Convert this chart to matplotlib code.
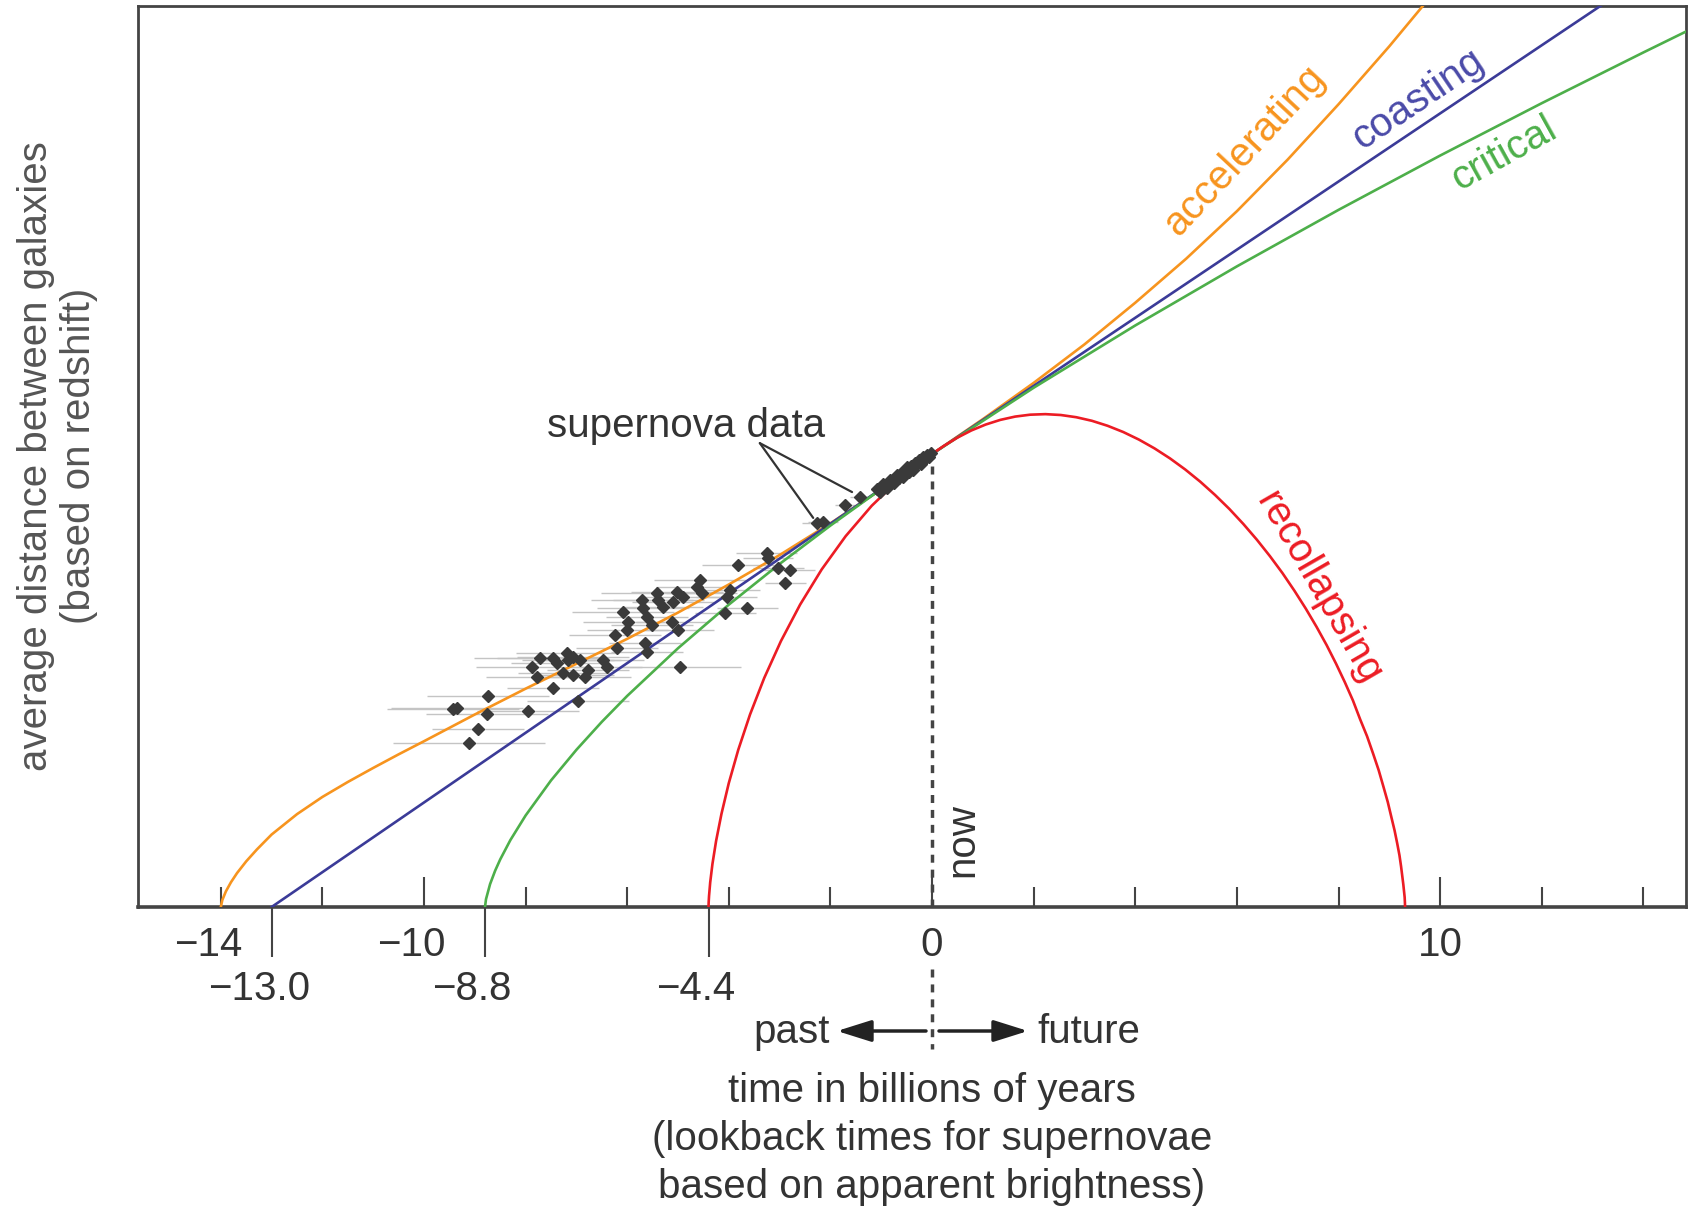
import matplotlib
matplotlib.use("Agg")
import matplotlib.pyplot as plt
from matplotlib.transforms import ScaledTranslation

plt.rcParams['font.family'] = ['Liberation Sans', 'DejaVu Sans']

# ---------------- data ----------------
# time in billions of years (0 = now), y = average distance relative to today
acc_t = [-14.0, -13.97, -13.9, -13.8, -13.68, -13.5, -13.29, -13.0, -12.5, -12.0,
         -11.5, -11.0, -10.5, -10.0, -9.0, -8.0, -7.0, -6.0, -5.0, -4.0, -3.0,
         -2.0, -1.0, 0.0, 1.0, 2.0, 3.0, 4.0, 5.0, 6.0, 7.0, 8.0, 9.0, 10.0]
acc_y = [0.0, 0.0155, 0.0345, 0.0547, 0.075, 0.1008, 0.127, 0.160, 0.205, 0.243,
         0.276, 0.307, 0.337, 0.366, 0.425, 0.482, 0.537, 0.592, 0.650, 0.712, 0.777,
         0.847, 0.922, 1.0, 1.077, 1.157, 1.242, 1.334, 1.431, 1.536, 1.650, 1.772, 1.900, 2.035]

coast_t = [-13.0, 0.0, 13.3]
coast_y = [0.0, 1.0, 2.0]

crit_t = [-8.8, -8.78, -8.7, -8.6, -8.5, -8.3, -8.0, -7.5, -7.0, -6.5, -6.0, -5.0,
          -4.0, -3.0, -2.0, -1.0, 0.0, 2.0, 4.0, 6.0, 8.0, 10.0, 12.0, 14.0, 14.84]
crit_y = [0.0, 0.0173, 0.0505, 0.0802, 0.1051, 0.1478, 0.2021, 0.2795, 0.3471, 0.4088,
          0.4661, 0.5713, 0.6676, 0.7574, 0.8421, 0.9227, 1.0, 1.1463, 1.2838, 1.4142,
          1.5389, 1.6588, 1.7744, 1.8864, 1.9326]

rec_t = [-4.4, -4.3996, -4.3971, -4.390, -4.3672, -4.323, -4.2508, -4.145, -4.0016,
         -3.815, -3.5833, -3.304, -2.9749, -2.597, -2.1721, -1.701, -1.1883, -0.637,
         -0.3489, 0.0, 0.2206, 0.493, 0.7714, 1.054, 1.3423, 1.635, 1.9307, 2.231,
         2.5337, 2.839, 3.1467, 3.455, 3.7637, 4.072, 4.3785, 4.682, 4.9832, 5.279,
         5.5686, 5.851, 6.1272, 6.394, 6.6504, 6.897, 7.1328, 7.356, 7.5678, 7.767,
         7.9519, 8.124, 8.2838, 8.427, 8.5625, 8.682, 8.7911, 8.885, 8.9699, 9.040,
         9.1043, 9.156, 9.1998, 9.231, 9.2759, 9.302, 9.3077, 9.31]
rec_y = [0.0, 0.0027, 0.0108, 0.0243, 0.0542, 0.0950, 0.1460, 0.2058, 0.2733,
         0.3469, 0.4249, 0.5055, 0.5870, 0.6676, 0.7453, 0.8186, 0.8857, 0.9451,
         0.9715, 1.0, 1.0170, 1.0358, 1.0519, 1.0650, 1.0753, 1.0826, 1.0868, 1.0880,
         1.0861, 1.0812, 1.0733, 1.0623, 1.0485, 1.0318, 1.0124, 0.9904, 0.9658, 0.9389,
         0.9097, 0.8788, 0.8455, 0.8107, 0.7745, 0.7371, 0.6981, 0.6587, 0.6185, 0.5780,
         0.5371, 0.4964, 0.4560, 0.4140, 0.3768, 0.3383, 0.3019, 0.2654, 0.2317, 0.1987,
         0.1687, 0.1402, 0.1142, 0.0900, 0.0497, 0.0217, 0.0091, 0.0]

sn_t = [-9.11, -8.94, -9.43, -9.35, -8.76, -8.74, -7.95, -6.97, -7.46, -7.87,
        -7.72, -7.78, -7.46, -7.38, -7.19, -7.17, -7.07, -6.93, -7.26, -7.07,
        -6.83, -6.77, -6.48, -6.40, -6.24, -6.20, -6.08, -5.98, -6.00, -5.71,
        -5.69, -5.61, -5.51, -5.65, -5.61, -5.41, -5.39, -5.30, -5.02, -4.90,
        -5.10, -5.12, -5.00, -4.63, -4.57, -4.53, -4.96, -4.04, -3.98, -4.07,
        -3.64, -3.82, -3.25, -3.23, -3.03, -2.80, -2.89, -2.26, -2.15, -1.71,
        -1.42, -1.08, -1.02, -0.97, -0.92, -0.88, -0.83, -0.78, -0.74, -0.70,
        -0.66, -0.62, -0.58, -0.54, -0.50, -0.46, -0.42, -0.38, -0.34, -0.30,
        -0.26, -0.22, -0.18, -0.14, -0.10, -0.06, -0.03]
sn_y = [0.362, 0.393, 0.437, 0.439, 0.426, 0.466, 0.433, 0.455, 0.483, 0.530,
        0.550, 0.508, 0.550, 0.539, 0.561, 0.545, 0.552, 0.545, 0.517, 0.512,
        0.508, 0.523, 0.545, 0.530, 0.600, 0.572, 0.651, 0.629, 0.611, 0.678,
        0.660, 0.640, 0.623, 0.583, 0.563, 0.693, 0.678, 0.662, 0.695, 0.684,
        0.673, 0.629, 0.611, 0.706, 0.722, 0.693, 0.530, 0.684, 0.700, 0.649,
        0.660, 0.755, 0.781, 0.770, 0.748, 0.744, 0.715, 0.848, 0.850, 0.887,
        0.905, 0.922, 0.916, 0.934, 0.928, 0.925, 0.943, 0.941, 0.937, 0.954,
        0.947, 0.958, 0.949, 0.962, 0.971, 0.961, 0.973, 0.965, 0.981, 0.977,
        0.986, 0.979, 0.993, 0.989, 0.997, 0.993, 1.002]
sn_err = [1.5, 0.9, 1.3, 1.3, 1.2, 1.2, 1.0, 1.0, 0.9, 1.1,
          1.3, 1.0, 1.1, 0.9, 1.0, 0.9, 1.1, 0.8, 0.9, 0.8,
          0.9, 0.8, 0.8, 0.7, 0.9, 0.8, 1.0, 0.9, 0.8, 1.0,
          0.9, 0.8, 0.8, 0.7, 0.7, 1.1, 0.9, 0.8, 0.9, 0.8,
          0.8, 0.7, 0.7, 0.8, 0.9, 0.7, 1.2, 0.6, 0.6, 0.6,
          0.6, 0.7, 0.6, 0.5, 0.5, 0.5, 0.4, 0.3, 0.3, 0.2,
          0.2, 0.05, 0.05, 0.05, 0.05, 0.05, 0.05, 0.05, 0.05, 0.05,
          0.05, 0.05, 0.05, 0.05, 0.05, 0.05, 0.05, 0.05, 0.05, 0.05,
          0.05, 0.05, 0.05, 0.05, 0.05, 0.05, 0.05]

major_ticks = [-14, -12, -10, -8, -6, -4, -2, 0, 2, 4, 6, 8, 10, 12, 14]
major_labels = ['−14', '', '−10', '', '', '', '', '0', '', '', '', '', '10', '', '']
long_ticks = [-10, 0, 10]
start_ticks = [-13.0, -8.8, -4.4]
start_labels = ['−13.0', '−8.8', '−4.4']

# ---------------- styling ----------------
C_ACC = '#F7941E'
C_COAST = '#3B3B98'
C_CRIT = '#4DAF4A'
C_REC = '#EC1C24'
C_DARK = '#333333'
C_AX = '#444444'
FS = 29

W, H = 1694, 1206
fig = plt.figure(figsize=(W / 100, H / 100), dpi=100)
L, R, T, B = 138, 1686, 6, 907
YTOP = 1.989
ax = fig.add_axes([L / W, (H - B) / H, (R - L) / W, (B - T) / H])
ax.set_xlim(-15.63, 14.84)
ax.set_ylim(0, YTOP)

# curves
ax.plot(acc_t, acc_y, color=C_ACC, lw=1.9, zorder=3)
ax.plot(coast_t, coast_y, color=C_COAST, lw=1.9, zorder=3)
ax.plot(crit_t, crit_y, color=C_CRIT, lw=1.9, zorder=3)
ax.plot(rec_t, rec_y, color=C_REC, lw=1.9, zorder=3)

# supernova data
ax.errorbar(sn_t, sn_y, xerr=sn_err, fmt='none', ecolor='#c4c4c4',
            elinewidth=1.0, capsize=0, zorder=1)
ax.plot(sn_t, sn_y, linestyle='none', marker='D', ms=6.5, color='#3a3a3a',
        mec='#3a3a3a', zorder=4)

# "now" dashed line
dash = (0, (2.3, 2.0))
ax.plot([0, 0], [0, 1.0], color=C_AX, lw=2.5, linestyle=dash, zorder=2)
ax.plot([0, 0], [-(969 - B) / (B - T) * YTOP, -(1049 - B) / (B - T) * YTOP],
        color=C_AX, lw=2.5, linestyle=dash, clip_on=False)
ax.text(0.59, 0.148, 'now', rotation=90, ha='center', va='center', fontsize=FS, color=C_DARK)

# curve labels
ax.text(6.15, 1.67, 'accelerating', rotation=47, ha='center', va='center',
        fontsize=FS, color=C_ACC, rotation_mode='anchor')
ax.text(9.57, 1.784, 'coasting', rotation=34, ha='center', va='center',
        fontsize=FS, color='#4a4aa8', rotation_mode='anchor')
ax.text(11.26, 1.664, 'critical', rotation=29, ha='center', va='center',
        fontsize=FS, color=C_CRIT, rotation_mode='anchor')
ax.text(7.6, 0.705, 'recollapsing', rotation=-60, ha='center', va='center',
        fontsize=FS, color=C_REC, rotation_mode='anchor')

# supernova annotation
ax.text(-4.84, 1.062, 'supernova data', ha='center', va='center', fontsize=FS, color=C_DARK)
for end in [(-2.34, 0.859), (-1.575, 0.916)]:
    ax.annotate('', xy=end, xytext=(-3.39, 1.024),
                arrowprops=dict(arrowstyle='-', color=C_DARK, lw=1.6,
                                shrinkA=0, shrinkB=0))

# axes styling
for s in ax.spines.values():
    s.set_color(C_AX)
    s.set_linewidth(2.0)
ax.spines['bottom'].set_linewidth(2.6)
ax.set_yticks([])
ax.set_xticks(major_ticks, labels=major_labels)
ax.set_xticks(start_ticks, labels=start_labels, minor=True)
ax.tick_params(axis='x', which='major', direction='in', length=14.4, width=1.5,
               color=C_AX, labelsize=FS, labelcolor=C_DARK, pad=13.5)
ax.tick_params(axis='x', which='minor', direction='out', length=36, width=1.5,
               color=C_AX, labelsize=FS, labelcolor=C_DARK, pad=9.5)
for tk in ax.xaxis.get_major_ticks():
    if tk.get_loc() in long_ticks:
        tk.tick1line.set_markersize(21.6)
shift = ScaledTranslation(-13 / 100, 0, fig.dpi_scale_trans)
for lab in ax.xaxis.get_majorticklabels() + ax.xaxis.get_minorticklabels():
    if lab.get_text().startswith('−'):
        lab.set_transform(lab.get_transform() + shift)

# y-axis label (two lines)
fig.text(36 / W, 1 - 456 / H, 'average distance between galaxies', rotation=90,
         ha='center', va='center', fontsize=FS, color='#555555')
fig.text(79 / W, 1 - 456 / H, '(based on redshift)', rotation=90,
         ha='center', va='center', fontsize=FS, color='#555555')

# past / future
fig.text(830 / W, 1 - 1032 / H, 'past', ha='right', va='center', fontsize=FS, color=C_DARK)
fig.text(1037 / W, 1 - 1032 / H, 'future', ha='left', va='center', fontsize=FS, color=C_DARK)
arrow_style = '-|>,head_length=0.7,head_width=0.22'
for x0, x1 in [(926, 837), (939, 1028)]:
    ax.annotate('', xy=(x1 / W, 1 - 1031 / H), xytext=(x0 / W, 1 - 1031 / H),
                xycoords='figure fraction', textcoords='figure fraction',
                arrowprops=dict(arrowstyle=arrow_style, color='#222222', lw=2.5,
                                mutation_scale=30, shrinkA=0, shrinkB=0))

# bottom caption
for txt, yy in [('time in billions of years', 1091),
                ('(lookback times for supernovae', 1139),
                ('based on apparent brightness)', 1187)]:
    fig.text(932 / W, 1 - yy / H, txt, ha='center', va='center', fontsize=FS, color=C_DARK)

fig.savefig('out.png', dpi=100)
